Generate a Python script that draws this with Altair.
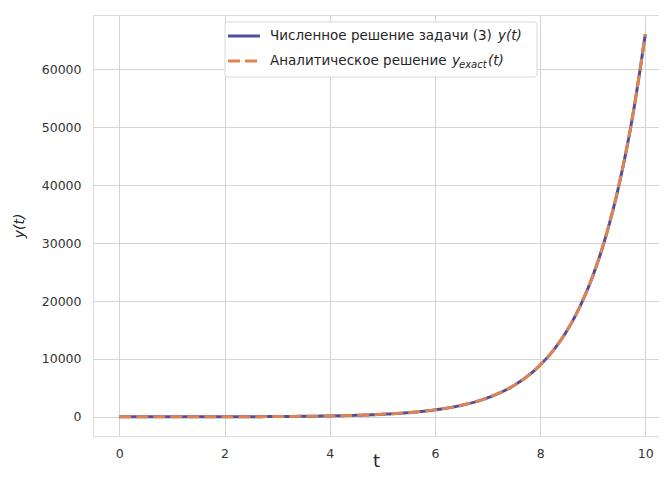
import altair as alt
import pandas as pd

# values
t_vals = [0, 0.5, 1, 1.5, 2, 2.5, 3, 3.5, 4, 4.5, 5, 5.5, 6, 6.5, 7, 7.5, 8,
          8.25, 8.5, 8.75, 9, 9.25, 9.5, 9.75, 10]
y_vals = [3, 5, 8, 13, 22, 37, 60, 99, 164, 271, 445, 734, 1210, 1995, 3290,
          5424, 8943, 11483, 14744, 18932, 24309, 31214, 40079, 51462, 66079]
series_names = ["numeric", "exact"]
x_ticks = [0, 2, 4, 6, 8, 10]
y_ticks = [0, 10000, 20000, 30000, 40000, 50000, 60000]

rows = []
for s in series_names:
    for t, y in zip(t_vals, y_vals):
        rows.append({"t": t, "y": y, "s": s})
df = pd.DataFrame(rows)

FONT = "DejaVu Sans"
BLUE = "#4e4e9e"
ORANGE = "#dd8452"

xs = alt.Scale(domain=[-0.5, 10.26], nice=False, zero=False)
ys = alt.Scale(domain=[-3300, 69400], nice=False, zero=False)

base = alt.Chart(df)

lines = base.mark_line(strokeWidth=3, interpolate="monotone").encode(
    x=alt.X("t:Q", scale=xs,
            axis=alt.Axis(values=x_ticks, title="t", titleFontSize=18,
                          titleFontWeight="normal", titleFont=FONT,
                          titleColor="#262626", titleY=30,
                          titleBaseline="alphabetic",
                          labelFont=FONT, labelFontSize=12.5, labelColor="#333333",
                          labelPadding=11, tickSize=0, domain=False,
                          gridColor="#d4d4d4", gridWidth=1)),
    y=alt.Y("y:Q", scale=ys,
            axis=alt.Axis(values=y_ticks, format="d", title="y(t)", titleFontSize=14,
                          titleFontWeight="normal", titleFontStyle="italic",
                          titleFont=FONT, titleColor="#262626", titlePadding=15,
                          labelFont=FONT, labelFontSize=12.5, labelColor="#333333",
                          labelPadding=12, tickSize=0, domain=False,
                          gridColor="#d4d4d4", gridWidth=1)),
    color=alt.Color("s:N", scale=alt.Scale(domain=series_names, range=[BLUE, ORANGE]),
                    legend=None),
    strokeDash=alt.StrokeDash("s:N", scale=alt.Scale(domain=series_names,
                                                     range=[[1, 0], [12, 5]]),
                              legend=None),
    order=alt.Order("s:N", sort="descending"),
)

one = alt.Chart(pd.DataFrame({"a": [0]}))

box = one.mark_rect(fill="white", stroke="#d8d8d8", strokeWidth=1, cornerRadius=3).encode(
    x=alt.value(132), x2=alt.value(444), y=alt.value(7), y2=alt.value(62))

leg_line1 = one.mark_rule(color=BLUE, strokeWidth=3).encode(
    x=alt.value(135), x2=alt.value(167), y=alt.value(21))
leg_line2 = one.mark_rule(color=ORANGE, strokeWidth=3, strokeDash=[12, 5]).encode(
    x=alt.value(135), x2=alt.value(167), y=alt.value(46))

def txt(s, x, y, size=13.5, style="normal"):
    return one.mark_text(text=s, font=FONT, fontSize=size, fontStyle=style,
                         align="left", baseline="middle", color="#262626").encode(
        x=alt.value(x), y=alt.value(y))

legend_texts = [
    txt("Численное решение задачи (3)", 177, 21),
    txt("y(t)", 405, 21, style="italic"),
    txt("Аналитическое решение", 177, 46),
    txt("y", 359, 46, style="italic"),
    txt("exact", 366, 49.5, size=10, style="italic"),
    txt("(t)", 395, 46, style="italic"),
]

chart = alt.layer(lines, box, leg_line1, leg_line2, *legend_texts).properties(
    width=566, height=421,
    autosize=alt.AutoSizeParams(type="none"),
    padding={"left": 85, "top": 7, "right": 0, "bottom": 35},
).configure_view(stroke="#cccccc", strokeWidth=1).configure(background="white")

chart.save("out.html", embed_options={"renderer": "svg", "actions": False})
